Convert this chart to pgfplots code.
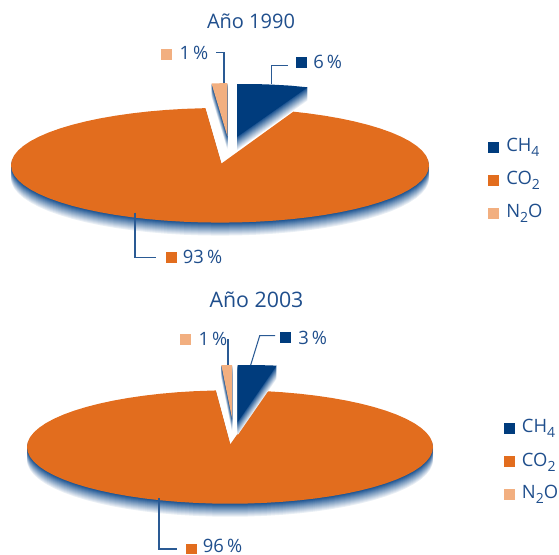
\documentclass[border=0pt]{standalone}
\usepackage{pgfplots}
\usepackage{pgfplotstable}
\usepackage{fontspec}
\setmainfont{Open Sans}
\pgfplotsset{compat=1.18}
\definecolor{cfour}{HTML}{003C7D}
\definecolor{cotwo}{HTML}{E26D1E}
\definecolor{ntwo}{HTML}{F2AF80}
\definecolor{txt}{HTML}{1F4E8C}
\definecolor{lead}{HTML}{2A5A94}
\definecolor{shade}{HTML}{0F4A8C}
% sector outline, 1990 (unit ellipse: first row rim start, last rows rim end and apex)
\pgfplotstableread[row sep=\\]{
c s\\ .351 .9364\\ .4226 .9063\\ .5 .8660\\ .5736 .8192\\ .6428 .7660\\ .7071 .7071\\ .7660 .6428\\ .8192 .5736\\ .8660 .5\\ .9063 .4226\\ .9397 .3420\\ .9659 .2588\\ .9848 .1736\\ .9962 .0872\\ 1 0\\
.9962 -.0872\\ .9848 -.1736\\ .9659 -.2588\\ .9397 -.3420\\ .9063 -.4226\\ .8660 -.5\\ .8192 -.5736\\ .7660 -.6428\\ .7071 -.7071\\ .6428 -.7660\\ .5736 -.8192\\ .5 -.8660\\ .4226 -.9063\\ .3420 -.9397\\ .2588 -.9659\\ .1736 -.9848\\ .0872 -.9962\\ 0 -1\\
-.0872 -.9962\\ -.1736 -.9848\\ -.2588 -.9659\\ -.3420 -.9397\\ -.4226 -.9063\\ -.5 -.8660\\ -.5736 -.8192\\ -.6428 -.7660\\ -.7071 -.7071\\ -.7660 -.6428\\ -.8192 -.5736\\ -.8660 -.5\\ -.9063 -.4226\\ -.9397 -.3420\\ -.9659 -.2588\\ -.9848 -.1736\\ -.9962 -.0872\\ -1 0\\
-.9962 .0872\\ -.9848 .1736\\ -.9659 .2588\\ -.9397 .3420\\ -.9063 .4226\\ -.8660 .5\\ -.8192 .5736\\ -.7660 .6428\\ -.7071 .7071\\ -.6428 .7660\\ -.5736 .8192\\ -.5 .8660\\ -.4226 .9063\\ -.3420 .9397\\ -.2588 .9659\\ -.1736 .9848\\ -.0698 .9976\\ .007 .031\\
}\rimA
% sector outline, 2003
\pgfplotstableread[row sep=\\]{
c s\\ .184 .983\\ .2588 .9659\\ .3420 .9397\\ .4226 .9063\\ .5 .8660\\ .5736 .8192\\ .6428 .7660\\ .7071 .7071\\ .7660 .6428\\ .8192 .5736\\ .8660 .5\\ .9063 .4226\\ .9397 .3420\\ .9659 .2588\\ .9848 .1736\\ .9962 .0872\\ 1 0\\
.9962 -.0872\\ .9848 -.1736\\ .9659 -.2588\\ .9397 -.3420\\ .9063 -.4226\\ .8660 -.5\\ .8192 -.5736\\ .7660 -.6428\\ .7071 -.7071\\ .6428 -.7660\\ .5736 -.8192\\ .5 -.8660\\ .4226 -.9063\\ .3420 -.9397\\ .2588 -.9659\\ .1736 -.9848\\ .0872 -.9962\\ 0 -1\\
-.0872 -.9962\\ -.1736 -.9848\\ -.2588 -.9659\\ -.3420 -.9397\\ -.4226 -.9063\\ -.5 -.8660\\ -.5736 -.8192\\ -.6428 -.7660\\ -.7071 -.7071\\ -.7660 -.6428\\ -.8192 -.5736\\ -.8660 -.5\\ -.9063 -.4226\\ -.9397 -.3420\\ -.9659 -.2588\\ -.9848 -.1736\\ -.9962 -.0872\\ -1 0\\
-.9962 .0872\\ -.9848 .1736\\ -.9659 .2588\\ -.9397 .3420\\ -.9063 .4226\\ -.8660 .5\\ -.8192 .5736\\ -.7660 .6428\\ -.7071 .7071\\ -.6428 .7660\\ -.5736 .8192\\ -.5 .8660\\ -.4226 .9063\\ -.3420 .9397\\ -.2588 .9659\\ -.1736 .9848\\ -.0698 .9976\\ .0015 .048\\
}\rimB
\pgfplotstableread[row sep=\\]{
x y\\ 237 84\\ 255 84\\ 272 84.6\\ 290 85.6\\ 307.7 87.3\\ 237 137\\
}\chA
\pgfplotstableread[row sep=\\]{
x y\\ 211.5 83.5\\ 227.3 83\\ 227.3 136\\
}\noA
\pgfplotstableread[row sep=\\]{
x y\\ 237.7 365\\ 257 365\\ 276.7 365.6\\ 237.7 422\\
}\chB
\pgfplotstableread[row sep=\\]{
x y\\ 221.3 365\\ 232 365\\ 232 418\\
}\noB
% pie(table, cx, cy, a, b)
\newcommand\pie[5]{%
  \pgfplotsinvokeforeach{13,12,...,1}{%
    \addplot[draw=none,fill=shade!\the\numexpr100-7*##1\relax!white]
      table[x expr=#2+#4*\thisrow{c},y expr=#3-#5*\thisrow{s}+##1]{#1}--cycle;}%
  \addplot[draw=none,fill=cotwo] table[x expr=#2+#4*\thisrow{c},y expr=#3-#5*\thisrow{s}]{#1}--cycle;}
\newcommand\slice[2]{%
  \pgfplotsinvokeforeach{13,12,...,1}{%
    \addplot[draw=none,fill=shade!\the\numexpr100-7*##1\relax!white]
      table[x=x,y expr=\thisrow{y}+##1]{#1}--cycle;}%
  \addplot[draw=none,fill=#2] table[x=x,y=y]{#1}--cycle;}
\newcommand\sq[5]{\addplot[draw=none,fill=#5] coordinates {(#1,#2)(#3,#2)(#3,#4)(#1,#4)}--cycle;}
\newcommand\fz{\fontsize{13.8}{16}\selectfont}
\newcommand\sub[1]{\raisebox{-4pt}{\fontsize{10.5}{12}\selectfont #1}}
\begin{document}
\begin{tikzpicture}
\path[use as bounding box] (0,0) rectangle (419.25pt,415.5pt);
\begin{axis}[at={(0,0)},anchor=south west,scale only axis,width=419.25pt,height=415.5pt,
  xmin=0,xmax=559,ymin=0,ymax=554,y dir=reverse,hide axis,clip=false,
  every axis plot/.append style={forget plot},
  nodes={text=txt,inner sep=0pt,anchor=west}]
% 1990
\pie{\rimA}{220}{165.3}{209}{57.3}
\slice{\noA}{ntwo}
\slice{\chA}{cfour}
\addplot[lead,line width=.8pt] coordinates {(271.7,84)(271.7,65.7)(288.3,65.7)};
\addplot[lead,line width=.8pt] coordinates {(224,83)(224,52.7)(215.7,52.7)};
\addplot[lead,line width=.8pt] coordinates {(135,212.7)(135,257.7)(156,257.7)};
\sq{296}{57.3}{306.7}{67.7}{cfour}
\sq{161}{49}{172}{60}{ntwo}
\sq{166}{252}{177}{263}{cotwo}
\sq{488}{141.7}{499}{153}{cfour}
\sq{488}{175}{499}{186}{cotwo}
\sq{488}{208}{499}{219}{ntwo}
\node[anchor=center] at (axis cs:251,21) {\fontsize{15}{18}\selectfont Año 1990};
\node at (axis cs:313,62) {\fz 6\,\%};
\node at (axis cs:179.3,53) {\fz 1\,\%};
\node at (axis cs:182.7,257) {\fz 93\,\%};
\node at (axis cs:506,147) {\fz CH\sub{4}};
\node at (axis cs:506,180) {\fz CO\sub{2}};
\node at (axis cs:506,213) {\fz N\sub{2}O};
% 2003
\pie{\rimB}{230}{447}{203}{56.7}
\slice{\noB}{ntwo}
\slice{\chB}{cfour}
\addplot[lead,line width=.8pt] coordinates {(228,339)(228,365)};
\addplot[lead,line width=.8pt] coordinates {(250.7,365)(259.7,335.7)(275,335.7)};
\addplot[lead,line width=.8pt] coordinates {(159,498)(159,549)(177.3,549)};
\sq{280}{332.3}{291}{343.3}{cfour}
\sq{180}{334}{191}{345}{ntwo}
\sq{186}{543.5}{197}{554}{cotwo}
\sq{504}{422.7}{515}{434}{cfour}
\sq{504}{456}{515}{467}{cotwo}
\sq{504}{489}{515}{500}{ntwo}
\node[anchor=center] at (axis cs:256.5,300) {\fontsize{16}{18}\selectfont Año 2003};
\node at (axis cs:298,338) {\fz 3\,\%};
\node at (axis cs:198.3,339) {\fz 1\,\%};
\node at (axis cs:202.7,545.5) {\fz 96\,\%};
\node at (axis cs:521.7,428) {\fz CH\sub{4}};
\node at (axis cs:521.7,462) {\fz CO\sub{2}};
\node at (axis cs:521.7,494) {\fz N\sub{2}O};
\end{axis}
\end{tikzpicture}
\end{document}
